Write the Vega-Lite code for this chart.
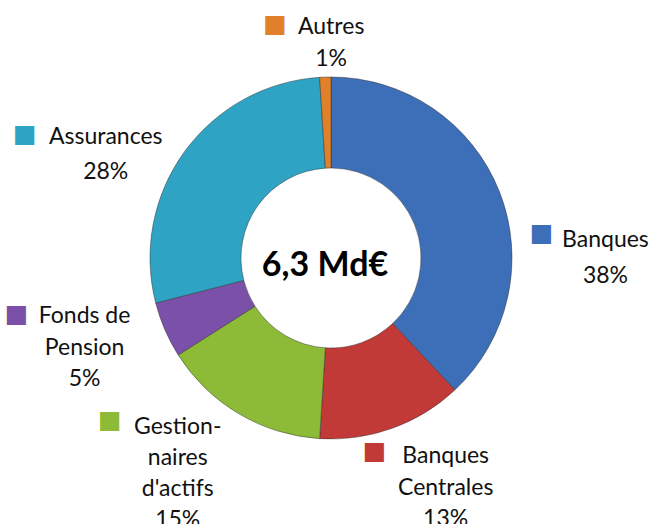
{
  "$schema": "https://vega.github.io/schema/vega-lite/v6.json",
  "width": 644,
  "height": 516,
  "autosize": "none",
  "padding": {"left": 9, "top": 0, "right": 0, "bottom": 8},
  "background": "white",
  "view": {"stroke": null},
  "datasets": {
    "parts": [
      {"cat": "Banques", "value": 38, "rank": 1, "label": "Banques\n38%"},
      {"cat": "Banques Centrales", "value": 13, "rank": 2, "label": "Banques\nCentrales\n13%"},
      {"cat": "Gestionnaires d'actifs", "value": 15, "rank": 3, "label": "Gestion-\nnaires\nd'actifs\n15%"},
      {"cat": "Fonds de Pension", "value": 5, "rank": 4, "label": "Fonds de\nPension\n5%"},
      {"cat": "Assurances", "value": 28, "rank": 5, "label": "Assurances\n28%"},
      {"cat": "Autres", "value": 1, "rank": 6, "label": "Autres\n1%"}
    ]
  },
  "data": {"name": "parts"},
  "encoding": {
    "theta": {"field": "value", "type": "quantitative", "stack": true},
    "order": {"field": "rank", "type": "quantitative"},
    "color": {
      "field": "cat", "type": "nominal", "legend": null,
      "scale": {
        "domain": ["Banques", "Banques Centrales", "Gestionnaires d'actifs", "Fonds de Pension", "Assurances", "Autres"],
        "range": ["#3d6eb8", "#c23a38", "#8dba37", "#7b50a8", "#2fa3c4", "#e0812a"]
      }
    }
  },
  "layer": [
    {"mark": {"type": "arc", "outerRadius": 181, "innerRadius": 90, "stroke": "#2a2a2a", "strokeOpacity": 0.45, "strokeWidth": 1}},
    {"mark": {"type": "text", "radius": 250, "dx": 42, "dy": 74, "font": "Lato", "fontSize": 23, "lineBreak": "\n", "lineHeight": 36, "align": "center", "baseline": "middle"},
     "encoding": {"color": {"value": "#111111"}, "text": {"condition": {"test": "datum.cat === 'Banques'", "field": "label"}, "value": ""}}},
    {"mark": {"type": "text", "radius": 250, "dx": 30, "dy": -37, "font": "Lato", "fontSize": 23, "lineBreak": "\n", "lineHeight": 31.5, "align": "center", "baseline": "middle"},
     "encoding": {"color": {"value": "#111111"}, "text": {"condition": {"test": "datum.cat === 'Banques Centrales'", "field": "label"}, "value": ""}}},
    {"mark": {"type": "text", "radius": 250, "dx": -26, "dy": -46, "font": "Lato", "fontSize": 23, "lineBreak": "\n", "lineHeight": 31, "align": "center", "baseline": "middle"},
     "encoding": {"color": {"value": "#111111"}, "text": {"condition": {"test": "datum.cat === \"Gestionnaires d'actifs\"", "field": "label"}, "value": ""}}},
    {"mark": {"type": "text", "radius": 250, "dx": -17, "dy": -41, "font": "Lato", "fontSize": 23, "lineBreak": "\n", "lineHeight": 31.5, "align": "center", "baseline": "middle"},
     "encoding": {"color": {"value": "#111111"}, "text": {"condition": {"test": "datum.cat === 'Fonds de Pension'", "field": "label"}, "value": ""}}},
    {"mark": {"type": "text", "radius": 250, "dx": -23, "dy": 26, "font": "Lato", "fontSize": 23, "lineBreak": "\n", "lineHeight": 35, "align": "center", "baseline": "middle"},
     "encoding": {"color": {"value": "#111111"}, "text": {"condition": {"test": "datum.cat === 'Assurances'", "field": "label"}, "value": ""}}},
    {"mark": {"type": "text", "radius": 218, "dx": 7, "dy": -13, "font": "Lato", "fontSize": 23, "lineBreak": "\n", "lineHeight": 32, "align": "center", "baseline": "middle"},
     "encoding": {"color": {"value": "#111111"}, "text": {"condition": {"test": "datum.cat === 'Autres'", "field": "label"}, "value": ""}}},
    {"mark": {"type": "text", "radius": 250, "dx": -22, "dy": 67, "font": "DejaVu Sans", "fontSize": 25, "align": "center", "baseline": "middle"},
     "encoding": {"text": {"condition": {"test": "datum.cat === 'Banques'", "value": "■"}, "value": ""}}},
    {"mark": {"type": "text", "radius": 250, "dx": -41, "dy": -42, "font": "DejaVu Sans", "fontSize": 25, "align": "center", "baseline": "middle"},
     "encoding": {"text": {"condition": {"test": "datum.cat === 'Banques Centrales'", "value": "■"}, "value": ""}}},
    {"mark": {"type": "text", "radius": 250, "dx": -94, "dy": -53, "font": "DejaVu Sans", "fontSize": 25, "align": "center", "baseline": "middle"},
     "encoding": {"text": {"condition": {"test": "datum.cat === \"Gestionnaires d'actifs\"", "value": "■"}, "value": ""}}},
    {"mark": {"type": "text", "radius": 250, "dx": -85, "dy": -43, "font": "DejaVu Sans", "fontSize": 25, "align": "center", "baseline": "middle"},
     "encoding": {"text": {"condition": {"test": "datum.cat === 'Fonds de Pension'", "value": "■"}, "value": ""}}},
    {"mark": {"type": "text", "radius": 250, "dx": -104, "dy": 23, "font": "DejaVu Sans", "fontSize": 25, "align": "center", "baseline": "middle"},
     "encoding": {"text": {"condition": {"test": "datum.cat === 'Assurances'", "value": "■"}, "value": ""}}},
    {"mark": {"type": "text", "radius": 218, "dx": -49, "dy": -16, "font": "DejaVu Sans", "fontSize": 25, "align": "center", "baseline": "middle"},
     "encoding": {"text": {"condition": {"test": "datum.cat === 'Autres'", "value": "■"}, "value": ""}}},
    {"data": {"values": [{"t": "6,3 Md€"}]},
     "mark": {"type": "text", "dx": -6, "dy": 8, "font": "Lato", "fontSize": 34, "fontWeight": "bold", "align": "center", "baseline": "middle", "color": "#000000"},
     "encoding": {"theta": null, "order": null, "color": null, "text": {"field": "t", "type": "nominal"}}}
  ]
}
